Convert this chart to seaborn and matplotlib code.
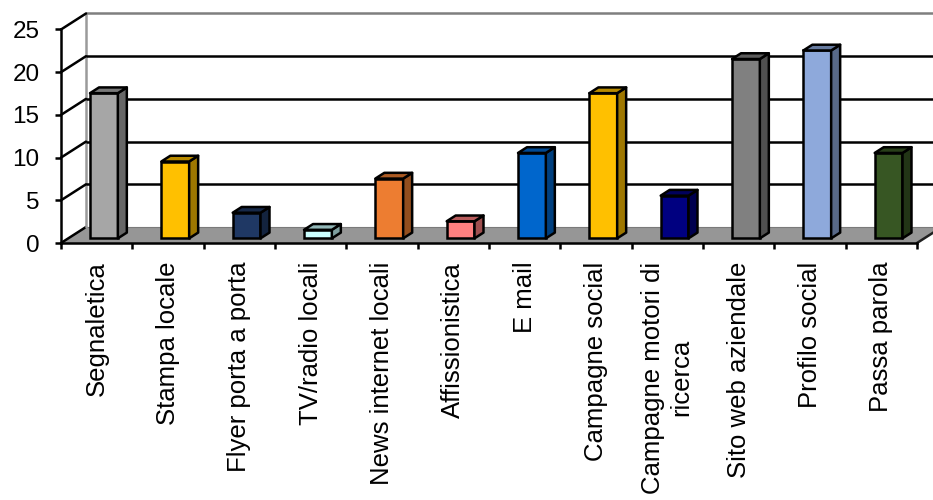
import numpy as np
import pandas as pd
import matplotlib
matplotlib.use("Agg")
import matplotlib.pyplot as plt
import seaborn as sns
from matplotlib.patches import Polygon
from matplotlib.colors import to_rgb

# ---- data ----
categories = ["Segnaletica", "Stampa locale", "Flyer porta a porta", "TV/radio locali",
              "News internet locali", "Affissionistica", "E mail", "Campagne social",
              "Campagne motori di\nricerca", "Sito web aziendale", "Profilo social",
              "Passa parola"]
values = [17, 9, 3, 1, 7, 2, 10, 17, 5, 21, 22, 10]
colors = ["#A6A6A6", "#FFC000", "#1F3864", "#CCFFFF", "#ED7D31", "#FF8080",
          "#0066CC", "#FFC000", "#000080", "#808080", "#8EA9DB", "#375623"]
y_ticks = [0, 5, 10, 15, 20, 25]

sns.set_theme(style="white")
plt.rcParams["font.family"] = ["Liberation Sans", "DejaVu Sans"]

W, H = 933, 500
fig = plt.figure(figsize=(W / 100, H / 100), dpi=100)

# front plane of the 3-D box, in pixels
x_left, x_right, y_base, y_top = 61, 917, 243, 29.5
ax = fig.add_axes([x_left / W, 1 - y_base / H,
                   (x_right - x_left) / W, (y_base - y_top) / H])
n = len(categories)
ymax = y_ticks[-1]
ax.set_xlim(-0.5, n - 0.5)
ax.set_ylim(0, ymax)

px_x = (x_right - x_left) / n
px_y = (y_base - y_top) / ymax
DX = 25 / px_x          # box depth, x data units
DY = 16 / px_y          # box depth, y data units
t0, t1 = 0.29, 0.65     # bar depth range within the box

LW = 1.8

# ---- floor ----
x0w, x1w = -0.5, n - 0.5
floor = Polygon([(x0w, 0), (x1w, 0), (x1w + DX, DY), (x0w + DX, DY)],
                closed=True, facecolor="#969696", edgecolor="none",
                zorder=0.5, clip_on=False)
ax.add_patch(floor)
ax.plot([x0w, x0w + DX], [0, DY], color="black", lw=LW, zorder=0.6, clip_on=False)
ax.plot([x1w, x1w + DX], [0, DY], color="#202020", lw=LW, zorder=0.6, clip_on=False)
ax.plot([x0w + DX, x1w + DX], [DY, DY], color="#7a7a7a", lw=0.8, zorder=0.55, clip_on=False)

# ---- walls: back grid lines and side-wall diagonals ----
for v in y_ticks[1:]:
    back_col = "#7f7f7f" if v == ymax else "black"
    ax.plot([x0w + DX, x1w + DX], [v + DY, v + DY], color=back_col, lw=LW,
            zorder=0.7, clip_on=False, solid_capstyle="butt")
    ax.plot([x0w, x0w + DX], [v, v + DY], color="black", lw=LW,
            zorder=0.7, clip_on=False)
ax.plot([x0w + DX, x0w + DX], [DY, ymax + DY], color="#9a9a9a", lw=LW,
        zorder=0.65, clip_on=False)

# ---- bars ----
df = pd.DataFrame({"canale": categories, "valore": values})
sns.barplot(data=df, x="canale", y="valore", hue="canale", palette=colors,
            legend=False, width=0.39, edgecolor="black", linewidth=LW,
            saturation=1, ax=ax, zorder=3)

bdx = (t1 - t0) * DX
bdy = (t1 - t0) * DY
for p in list(ax.patches):
    if p is floor:
        continue
    w = p.get_width()
    i = int(round(p.get_x() + w / 2))
    h = p.get_height()
    p.set_x(p.get_x() + t0 * DX)
    p.set_y(t0 * DY)
    p.set_clip_on(False)
    xa, xb = p.get_x(), p.get_x() + w
    ya, yb = t0 * DY, t0 * DY + h
    base = np.array(to_rgb(colors[i]))
    side = Polygon([(xb, ya), (xb + bdx, ya + bdy), (xb + bdx, yb + bdy), (xb, yb)],
                   closed=True, facecolor=base * 0.62, edgecolor="black",
                   lw=LW, zorder=3, clip_on=False, joinstyle="round")
    top = Polygon([(xa, yb), (xb, yb), (xb + bdx, yb + bdy), (xa + bdx, yb + bdy)],
                  closed=True, facecolor=base * 0.72, edgecolor="black",
                  lw=LW, zorder=3, clip_on=False, joinstyle="round")
    ax.add_patch(side)
    ax.add_patch(top)

# ---- axes, ticks and labels ----
for s in ["top", "right"]:
    ax.spines[s].set_visible(False)
for s in ["left", "bottom"]:
    ax.spines[s].set_visible(True)
    ax.spines[s].set_color("black")
    ax.spines[s].set_linewidth(LW)
    ax.spines[s].set_zorder(4)

ax.set_yticks(y_ticks)
ax.set_yticklabels([str(v) for v in y_ticks])
ax.tick_params(axis="y", left=True, length=4.5, width=LW, color="black",
               pad=11, labelsize=17.5, labelcolor="black")

ax.set_xticks(np.arange(n))
ax.set_xticklabels(categories, rotation=90, va="top", ha="center",
                   multialignment="center")
ax.set_xticks(np.arange(n + 1) - 0.5, minor=True)
ax.tick_params(axis="x", which="major", bottom=False, length=0, pad=13.5,
               labelsize=18.5, labelcolor="black")
ax.tick_params(axis="x", which="minor", bottom=True, length=4.5, width=LW,
               color="black")
ax.set_xlabel("")
ax.set_ylabel("")
ax.grid(False)
ax.set_facecolor("none")

fig.savefig("out.png", dpi=100, facecolor="white")
